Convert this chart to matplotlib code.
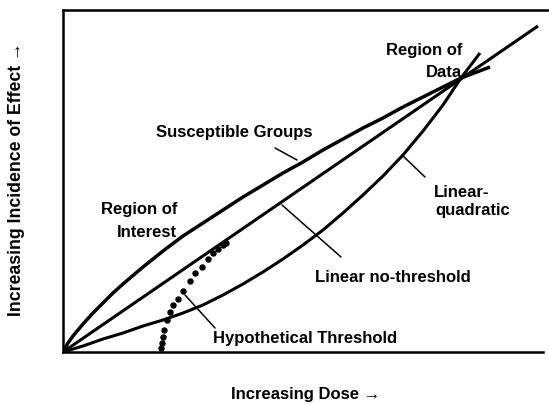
import numpy as np
import matplotlib
matplotlib.use("Agg")
import matplotlib.pyplot as plt

plt.rcParams['font.family'] = ['Liberation Sans', 'DejaVu Sans']
plt.rcParams['font.weight'] = 'bold'

# values (dose / effect in arbitrary units)
lin_dose = [0, 475]
lin_effect = [0, 326]

sus_dose = [0, 5, 10, 20, 30, 40, 50, 60, 80, 100, 120, 140, 160, 180, 200, 220, 240,
            260, 280, 300, 320, 340, 360, 380, 398, 427]
sus_effect = [0, 9, 16, 28, 39, 49, 59, 68, 85, 101, 116, 129, 142, 155, 167, 179, 190,
              202, 213, 224, 234, 245, 255, 265, 274, 285]

lq_dose = [0, 20, 40, 60, 80, 100, 120, 140, 160, 180, 200, 220, 240, 260, 280, 300,
           320, 340, 360, 380, 398, 417]
lq_effect = [0, 6, 13, 19, 26, 32, 39, 47, 57, 68, 80, 93, 107, 122, 139, 157,
             176, 197, 221, 247, 274, 299]

thr_dose = [98, 99, 100, 101, 104, 107, 110, 115, 120, 127, 132, 139, 145, 150, 155, 160, 163]
thr_effect = [4, 9, 15, 22, 32, 40, 47, 53, 61, 71, 79, 85, 93, 99, 103, 107, 109]

fig = plt.figure(figsize=(5.49, 4.05), dpi=100)
ax = fig.add_axes([63/549, 53/405, 486/549, 342/405])
ax.set_xlim(0, 486)
ax.set_ylim(0, 342)

ax.plot(lin_dose, lin_effect, color='black', lw=2.2, solid_capstyle='butt')
ax.plot(sus_dose, sus_effect, color='black', lw=2.5, solid_capstyle='butt')
ax.plot(lq_dose, lq_effect, color='black', lw=2.2, solid_capstyle='butt')
ax.plot(thr_dose, thr_effect, ls='none', marker='o', ms=3.6, color='black')

# leader lines
leader = dict(arrowstyle='-', color='black', lw=1.1, shrinkA=0, shrinkB=0)
ax.annotate('', xy=(234, 192), xytext=(212, 204), arrowprops=leader)
ax.annotate('', xy=(278, 95), xytext=(219, 147), arrowprops=leader)
ax.annotate('', xy=(362, 175), xytext=(339, 197), arrowprops=leader)
ax.annotate('', xy=(152, 24), xytext=(122, 57), arrowprops=leader)

fs = 12
ax.text(399, 297, 'Region of', ha='right', va='baseline', fontsize=fs)
ax.text(399, 275, 'Data', ha='right', va='baseline', fontsize=fs)
ax.text(93, 215, 'Susceptible Groups', ha='left', va='baseline', fontsize=fs)
ax.text(114, 138, 'Region of', ha='right', va='baseline', fontsize=fs)
ax.text(114, 115, 'Interest', ha='right', va='baseline', fontsize=fs)
ax.text(371, 155, 'Linear-', ha='left', va='baseline', fontsize=fs)
ax.text(372, 137, 'quadratic', ha='left', va='baseline', fontsize=fs)
ax.text(252, 70, 'Linear no-threshold', ha='left', va='baseline', fontsize=fs)
ax.text(150, 9, 'Hypothetical Threshold', ha='left', va='baseline', fontsize=fs)

fig.text(306/549, 1 - 395/405, 'Increasing Dose \u2192', ha='center', va='center', fontsize=12)
fig.text(17/549, 1 - 179/405, 'Increasing Incidence of Effect \u2192', ha='center', va='center',
         rotation=90, fontsize=12.7)

ax.set_xticks([])
ax.set_yticks([])
ax.spines['right'].set_visible(False)
for s in ['left', 'top', 'bottom']:
    ax.spines[s].set_linewidth(1.8)
ax.spines['bottom'].set_bounds(0, 480)

fig.savefig('out.png', dpi=100)
